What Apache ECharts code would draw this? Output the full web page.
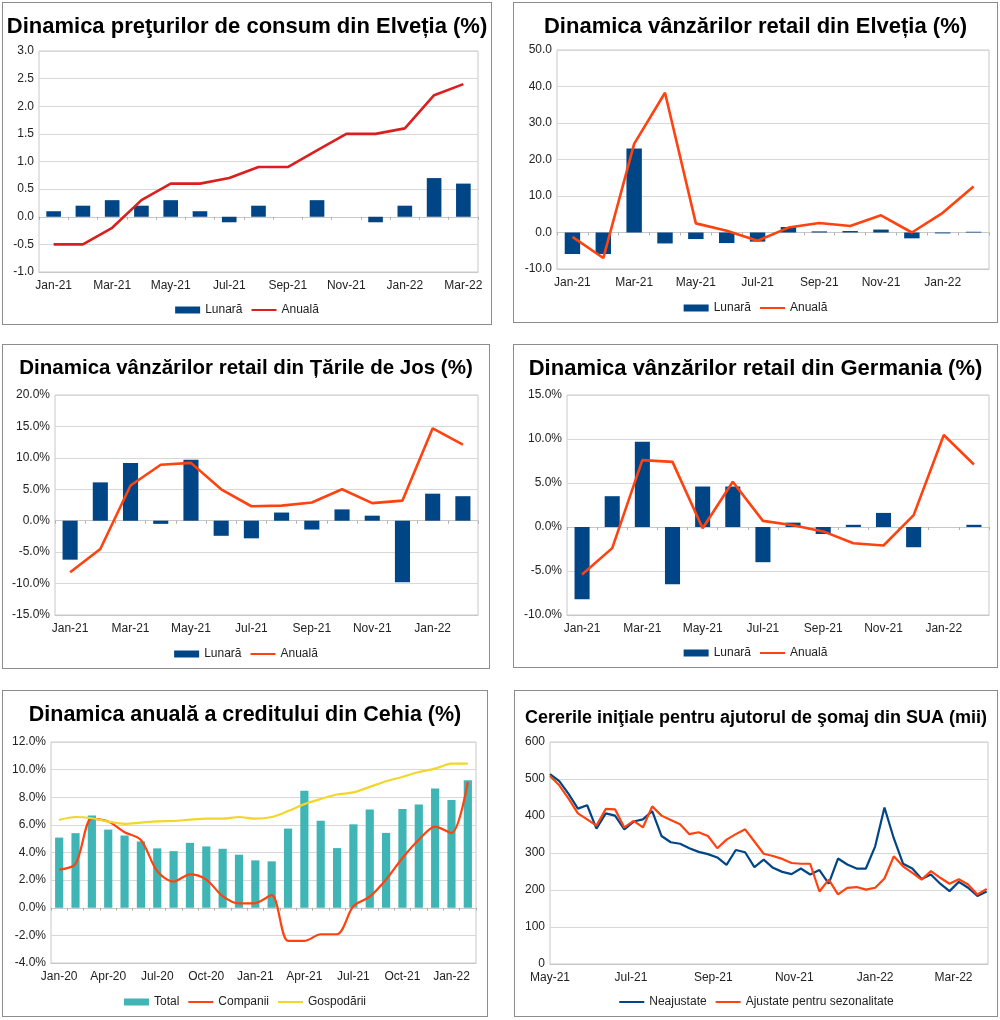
<!DOCTYPE html>
<html>
<head>
<meta charset="utf-8">
<script src="https://cdn.jsdelivr.net/npm/echarts@6/dist/echarts.min.js"></script>
<style>
body{margin:0;background:#fff;width:1000px;height:1020px;position:relative;font-family:'Liberation Sans',Arial,sans-serif}
.box{position:absolute;border:1px solid #8c8c8c;box-sizing:border-box;background:#fff}
</style>
</head>
<body>
<div class="box" id="c1" style="left:2px;top:2px;width:490px;height:323px"></div>
<div class="box" id="c2" style="left:513px;top:2px;width:485px;height:321px"></div>
<div class="box" id="c3" style="left:2px;top:344px;width:488px;height:325px"></div>
<div class="box" id="c4" style="left:513px;top:344px;width:485px;height:324px"></div>
<div class="box" id="c5" style="left:2px;top:690px;width:486px;height:327px"></div>
<div class="box" id="c6" style="left:514px;top:690px;width:484px;height:327px"></div>
<script>
// Elvetia - preturi de consum
var cpiCats = ['Jan-21','Feb-21','Mar-21','Apr-21','May-21','Jun-21','Jul-21','Aug-21','Sep-21','Oct-21','Nov-21','Dec-21','Jan-22','Feb-22','Mar-22']
var cpiLunara = [0.1,0.2,0.3,0.2,0.3,0.1,-0.1,0.2,0,0.3,0,-0.1,0.2,0.7,0.6]
var cpiAnuala = [-0.5,-0.5,-0.2,0.3,0.6,0.6,0.7,0.9,0.9,1.2,1.5,1.5,1.6,2.2,2.4]

// vanzari retail (Jan-21 .. Feb-22)
var retailCats = ['Jan-21','Feb-21','Mar-21','Apr-21','May-21','Jun-21','Jul-21','Aug-21','Sep-21','Oct-21','Nov-21','Dec-21','Jan-22','Feb-22']
var chLunara = [-5.9,-5.9,23.0,-3.0,-1.8,-2.9,-2.5,1.5,0.3,0.4,0.8,-1.6,-0.25,0.2]
var chAnuala = [-1.2,-7.0,24.3,38.3,2.5,0.5,-2.25,1.35,2.6,1.8,4.7,0.0,5.4,12.6]
var nlLunara = [-6.2,6.1,9.2,-0.5,9.7,-2.4,-2.8,1.3,-1.4,1.8,0.8,-9.8,4.3,3.9]
var nlAnuala = [-8.2,-4.5,5.6,8.9,9.2,5.0,2.3,2.4,2.9,5.0,2.8,3.2,14.7,12.1]
var deLunara = [-8.2,3.5,9.7,-6.5,4.6,4.6,-4.0,0.5,-0.8,0.25,1.6,-2.3,0,0.25]
var deAnuala = [-5.4,-2.4,7.6,7.4,-0.15,5.15,0.7,0.2,-0.5,-1.85,-2.1,1.35,10.45,7.1]

// Cehia - credit
var czCats = ['Jan-20','Feb-20','Mar-20','Apr-20','May-20','Jun-20','Jul-20','Aug-20','Sep-20','Oct-20','Nov-20','Dec-20','Jan-21','Feb-21','Mar-21','Apr-21','May-21','Jun-21','Jul-21','Aug-21','Sep-21','Oct-21','Nov-21','Dec-21','Jan-22','Feb-22']
var czTotal = [5.08,5.4,6.67,5.66,5.23,4.8,4.3,4.1,4.7,4.44,4.27,3.84,3.43,3.36,5.73,8.47,6.3,4.32,6.04,7.12,5.42,7.15,7.48,8.63,7.8,9.23]
var czCompanii = [2.76,3.17,6.45,6.24,5.47,4.9,2.64,1.9,2.42,2.04,0.84,0.31,0.34,0.91,-2.4,-2.4,-1.92,-1.92,0.12,0.8,2.04,3.6,4.92,5.88,5.4,9.1]
var czGospodarii = [6.36,6.57,6.48,6.24,6.07,6.16,6.26,6.28,6.38,6.45,6.45,6.57,6.45,6.57,7.0,7.5,7.87,8.2,8.35,8.75,9.16,9.47,9.83,10.07,10.43,10.43]

// SUA - cereri initiale (mii), saptamanal
var usWeeks = ['2021-05-01','2021-05-08','2021-05-15','2021-05-22','2021-05-29','2021-06-05','2021-06-12','2021-06-19','2021-06-26',
  '2021-07-03','2021-07-10','2021-07-17','2021-07-24','2021-07-31','2021-08-07','2021-08-14','2021-08-21','2021-08-28',
  '2021-09-04','2021-09-11','2021-09-18','2021-09-25','2021-10-02','2021-10-09','2021-10-16','2021-10-23','2021-10-30',
  '2021-11-06','2021-11-13','2021-11-20','2021-11-27','2021-12-04','2021-12-11','2021-12-18','2021-12-25',
  '2022-01-01','2022-01-08','2022-01-15','2022-01-22','2022-01-29','2022-02-05','2022-02-12','2022-02-19','2022-02-26',
  '2022-03-05','2022-03-12','2022-03-19','2022-03-26']
var usNeajustate = [513,494,460,420,429,366,407,401,364,385,391,413,346,329,325,313,303,297,288,268,308,302,262,282,260,249,243,258,242,254,217,285,269,258,258,318,423,340,271,258,230,242,217,197,222,206,184,196]
var usAjustate = [508,483,447,407,391,374,419,418,369,387,369,426,401,389,378,351,356,346,313,336,351,364,331,298,292,284,273,271,271,196,228,188,206,208,201,206,231,291,264,246,228,251,233,217,229,215,188,203]

var FONT = "'Liberation Sans', Arial, sans-serif"
var BLUE = '#004586'
var ORANGE = '#ff420e'

function baseOption(title, titleSize, grid){
    return {
        animation: false,
        textStyle: {fontFamily: FONT},
        title: {
            text: title, left: 'center', top: titleSize > 19 ? 8 : 13,
            textStyle: {fontFamily: FONT, fontSize: titleSize, fontWeight: 'bold', color: '#000'}
        },
        grid: {left: grid[0], top: grid[1], right: grid[2], bottom: grid[3], show: true, borderColor: '#c8c8c8', borderWidth: 1},
        legend: {
            bottom: 3, itemGap: 8, itemWidth: 25, itemHeight: 7,
            textStyle: {fontFamily: FONT, fontSize: 12, color: '#222'}
        }
    }
}

function valueAxis(min, max, step, fmt){
    return {
        type: 'value', min: min, max: max, interval: step,
        axisLine: {show: false}, axisTick: {show: false},
        splitLine: {lineStyle: {color: '#d8d8d8'}},
        axisLabel: {fontSize: 12, color: '#222', margin: 5, formatter: fmt}
    }
}

// doua axe x: una jos cu etichete, una pe linia de zero doar cu tick-uri
function catAxes(cats, every){
    return [{
        type: 'category', data: cats,
        axisLine: {onZero: false, lineStyle: {color: '#c8c8c8'}},
        axisTick: {show: false},
        axisLabel: {interval: every, fontSize: 12, color: '#222', margin: 8}
    }, {
        type: 'category', data: cats, position: 'bottom',
        axisLine: {onZero: true, lineStyle: {color: '#c8c8c8'}},
        axisTick: {show: true, interval: 0, length: 3, lineStyle: {color: '#b0b0b0'}},
        axisLabel: {show: false}
    }]
}

function lineLegend(name){
    return {name: name, itemStyle: {opacity: 0}}
}

function barLine(id, title, tsize, cats, bars, line, lineColor, yax, grid){
    var chart = echarts.init(document.getElementById(id))
    var option = baseOption(title, tsize, grid)
    option.xAxis = catAxes(cats, 1)
    option.yAxis = yax
    option.legend.data = [{name: 'Lunară', icon: 'rect'}, lineLegend('Anuală')]
    option.series = [
        {name: 'Lunară', type: 'bar', data: bars, barCategoryGap: '50%', itemStyle: {color: BLUE}},
        {name: 'Anuală', type: 'line', data: line, symbol: 'none', lineStyle: {color: lineColor, width: 2.6}, itemStyle: {color: lineColor}}
    ]
    chart.setOption(option)
}

var dec1 = function(v){ return v.toFixed(1) }
var pct1 = function(v){ return v.toFixed(1) + '%' }

barLine('c1', 'Dinamica preţurilor de consum din Elveția (%)', 22, cpiCats, cpiLunara, cpiAnuala, '#dc1e1e',
    valueAxis(-1, 3, 0.5, dec1), [36, 48, 13, 52])
barLine('c2', 'Dinamica vânzărilor retail din Elveția (%)', 22, retailCats, chLunara, chAnuala, ORANGE,
    valueAxis(-10, 50, 10, dec1), [43, 47, 8, 53])
barLine('c3', 'Dinamica vânzărilor retail din Țările de Jos (%)', 20.5, retailCats, nlLunara, nlAnuala, ORANGE,
    valueAxis(-15, 20, 5, pct1), [52, 50, 11, 53])
barLine('c4', 'Dinamica vânzărilor retail din Germania (%)', 22, retailCats, deLunara, deAnuala, ORANGE,
    valueAxis(-10, 15, 5, pct1), [53, 50, 8, 52])

// Cehia
var chart5 = echarts.init(document.getElementById('c5'))
var opt5 = baseOption('Dinamica anuală a creditului din Cehia (%)', 21.5, [48, 51, 11, 53])
opt5.xAxis = catAxes(czCats, 2)
opt5.yAxis = valueAxis(-4, 12, 2, pct1)
opt5.legend.data = [{name: 'Total', icon: 'rect'}, lineLegend('Companii'), lineLegend('Gospodării')]
opt5.series = [
    {name: 'Total', type: 'bar', data: czTotal, barCategoryGap: '50%', itemStyle: {color: '#3fb5b5'}},
    {name: 'Companii', type: 'line', data: czCompanii, symbol: 'none', smooth: 0.3, lineStyle: {color: ORANGE, width: 2.2}, itemStyle: {color: ORANGE}},
    {name: 'Gospodării', type: 'line', data: czGospodarii, symbol: 'none', smooth: 0.3, lineStyle: {color: '#f2d62a', width: 2.2}, itemStyle: {color: '#f2d62a'}}
]
chart5.setOption(opt5)

// SUA
var chart6 = echarts.init(document.getElementById('c6'))
var opt6 = baseOption('Cererile iniţiale pentru ajutorul de şomaj din SUA (mii)', 18, [35, 51, 9, 52])
var monthNames = ['Jan','Feb','Mar','Apr','May','Jun','Jul','Aug','Sep','Oct','Nov','Dec']
opt6.xAxis = {
    type: 'time', min: '2021-05-01', max: '2022-03-27', splitNumber: 12,
    axisLine: {onZero: false, lineStyle: {color: '#c8c8c8'}},
    axisTick: {show: false},
    splitLine: {show: false},
    axisLabel: {
        fontSize: 12, color: '#222', margin: 8, showMaxLabel: false, showMinLabel: true,
        formatter: function(v){
            var d = new Date(v)
            if (d.getDate() != 1 || d.getMonth() % 2 != 0) return ''
            return monthNames[d.getMonth()] + '-' + String(d.getFullYear()).slice(2)
        }
    }
}
opt6.yAxis = valueAxis(0, 600, 100, function(v){ return v })
opt6.legend.data = [lineLegend('Neajustate'), lineLegend('Ajustate pentru sezonalitate')]
var neaj = [], ajust = []
for (var i = 0; i < usWeeks.length; i++) {
    neaj.push([usWeeks[i], usNeajustate[i]])
    ajust.push([usWeeks[i], usAjustate[i]])
}
opt6.series = [
    {name: 'Neajustate', type: 'line', data: neaj, symbol: 'none', lineStyle: {color: BLUE, width: 2.2}, itemStyle: {color: BLUE}},
    {name: 'Ajustate pentru sezonalitate', type: 'line', data: ajust, symbol: 'none', lineStyle: {color: ORANGE, width: 2.2}, itemStyle: {color: ORANGE}}
]
chart6.setOption(opt6)
</script>
</body>
</html>
